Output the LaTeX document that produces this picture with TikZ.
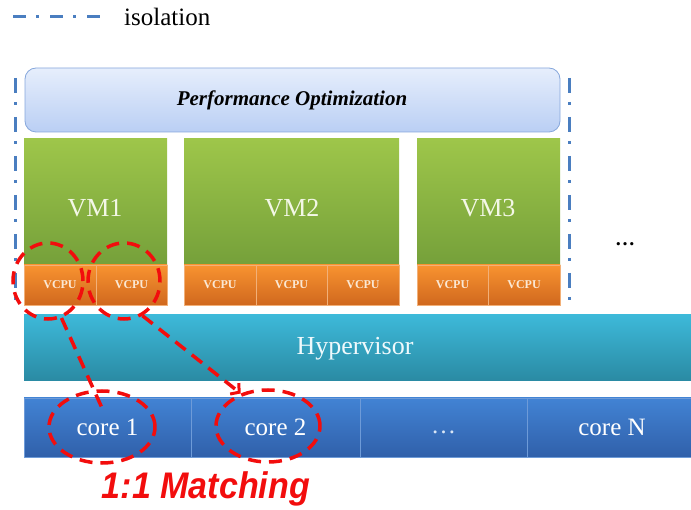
\documentclass[tikz,border=0pt]{standalone}
\usepackage{fontspec}
\setmainfont{Liberation Serif}
\newfontfamily\arialf{Liberation Sans}
\usetikzlibrary{shapes.geometric,arrows.meta}
\definecolor{isoblue}{HTML}{4A7EC0}
\definecolor{perftop}{HTML}{E6EEFC}
\definecolor{perfbot}{HTML}{BACFF4}
\definecolor{perfline}{HTML}{86A7DC}
\definecolor{greentop}{HTML}{9EC64A}
\definecolor{greenbot}{HTML}{75A03A}
\definecolor{orangetop}{HTML}{F89330}
\definecolor{orangebot}{HTML}{D0681E}
\definecolor{orangeline}{HTML}{F2B078}
\definecolor{hyptop}{HTML}{3DB9D9}
\definecolor{hypbot}{HTML}{2A8AA3}
\definecolor{coretop}{HTML}{4283D4}
\definecolor{corebot}{HTML}{3060AA}
\definecolor{coreline}{HTML}{6E9BD8}
\definecolor{mred}{HTML}{F20D0D}
\definecolor{vmtext}{HTML}{F3F7E6}
\definecolor{vcputext}{HTML}{FBE8D4}
\begin{document}
\begin{tikzpicture}[x=1pt,y=-1pt,
  box/.style={inner sep=0pt, outer sep=0pt, anchor=north west},
  perfbox/.style={box, rounded corners=11pt, top color=perftop, bottom color=perfbot, draw=perfline, line width=0.8pt},
  vmbox/.style={box, top color=greentop, bottom color=greenbot},
  vcpubox/.style={box, top color=orangetop, bottom color=orangebot, draw=orangeline, line width=0.5pt,
     font=\bfseries\fontsize{12}{14}\selectfont, text=vcputext, minimum height=40pt},
  hypbox/.style={box, top color=hyptop, bottom color=hypbot},
  corebox/.style={box, top color=coretop, bottom color=corebot, draw=coreline, line width=0.5pt,
     minimum height=59pt, font=\fontsize{25}{30}\selectfont, text=white},
  vmlabel/.style={font=\fontsize{26}{30}\selectfont, text=vmtext, inner sep=0pt},
  iso/.style={draw=isoblue, line width=3pt, dash pattern=on 15pt off 9pt on 3pt off 12pt},
  redring/.style={ellipse, draw=mred, line width=3.5pt, dash pattern=on 13pt off 8pt, inner sep=0pt},
  redlink/.style={draw=mred, line width=3.5pt, dash pattern=on 13pt off 8pt}
]
\useasboundingbox (0,0) rectangle (691,510);

% legend
\coordinate (lg1) at (13,17);
\coordinate (lg2) at (100,17);
\draw[iso, dash pattern=on 13pt off 10pt on 3pt off 11pt] (lg1) -- (lg2);
\node[anchor=west, inner sep=0pt, font=\fontsize{25}{30}\selectfont] (isolab) at (124,17) {isolation};

% isolation lines
\coordinate (il1) at (15,78);
\coordinate (il2) at (15,306);
\coordinate (ir1) at (569,78);
\coordinate (ir2) at (569,306);
\draw[iso] (il1) -- (il2);
\draw[iso] (ir1) -- (ir2);

% performance optimization
\node[perfbox, minimum width=535pt, minimum height=64pt] (perf) at (25,68) {};
\node[font=\bfseries\itshape\fontsize{21}{25}\selectfont, inner sep=0pt] (perft) at (292,100) {Performance Optimization};

% VMs
\node[vmbox, minimum width=143pt, minimum height=126pt] (vm1) at (24,139) {};
\node[vmbox, minimum width=215pt, minimum height=126pt] (vm2) at (184,139) {};
\node[vmbox, minimum width=143pt, minimum height=126pt] (vm3) at (417,139) {};
\node[vmlabel] (vm1t) at (95,208) {VM1};
\node[vmlabel] (vm2t) at (292,208) {VM2};
\node[vmlabel] (vm3t) at (488,208) {VM3};

% VCPUs
\node[vcpubox, minimum width=72pt] (c11) at (24,265) {VCPU};
\node[vcpubox, minimum width=71pt] (c12) at (96,265) {VCPU};
\node[vcpubox, minimum width=72pt] (c21) at (184,265) {VCPU};
\node[vcpubox, minimum width=71pt] (c22) at (256,265) {VCPU};
\node[vcpubox, minimum width=72pt] (c23) at (327,265) {VCPU};
\node[vcpubox, minimum width=71pt] (c31) at (417,265) {VCPU};
\node[vcpubox, minimum width=72pt] (c32) at (488,265) {VCPU};

\node[inner sep=0pt, font=\bfseries\fontsize{20}{24}\selectfont] (dots) at (625,244) {\dots};

% hypervisor
\node[hypbox, minimum width=680pt, minimum height=66pt] (hyp) at (24,315) {};
\node[font=\fontsize{26}{30}\selectfont, text=white!92!hyptop, inner sep=0pt] (hypt) at (355,349) {Hypervisor};

% cores
\node[corebox, minimum width=167pt] (k1) at (24,398) {core 1};
\node[corebox, minimum width=169pt] (k2) at (191,398) {core 2};
\node[corebox, minimum width=167pt, text=white!80!coretop] (k3) at (360,398) {\vphantom{core}\dots};
\node[corebox, minimum width=170pt] (k4) at (527,398) {core N};

% red matching marks
\node[redring, minimum width=70pt, minimum height=76pt] (e1) at (48,281) {};
\node[redring, minimum width=72pt, minimum height=76pt] (e2) at (124,281) {};
\node[redring, minimum width=106pt, minimum height=72pt] (e3) at (102,427) {};
\node[redring, minimum width=104pt, minimum height=72pt] (e4) at (268,426) {};
\coordinate (m1) at (102,408);
\draw[redlink] (e1.-70) -- (m1);
\draw[redlink, -{Straight Barb[length=6pt,width=14pt,line width=3pt]}] (e2.-62) -- (e4.130);

\node[font=\arialf\bfseries\itshape\fontsize{37}{42}\selectfont, text=mred, inner sep=0pt, xscale=0.92] (match) at (206,489) {1:1 Matching};
\end{tikzpicture}
\end{document}
